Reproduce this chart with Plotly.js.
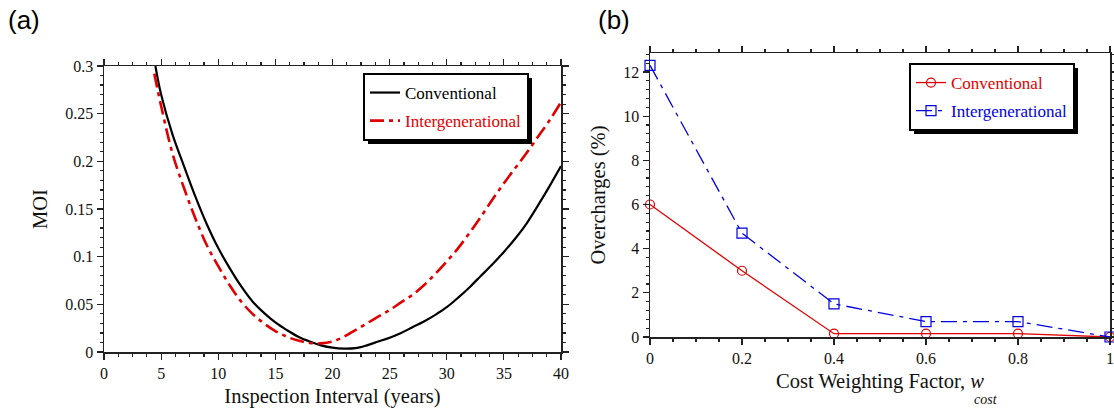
<!DOCTYPE html>
<html><head><meta charset="utf-8">
<script src="https://cdn.plot.ly/plotly-3.0.1.min.js"></script>
<style>body{margin:0;background:#fff}#chart{width:1114px;height:409px}</style>
</head><body><div id="chart"></div>
<script>
// Panel (a): MOI vs inspection interval
const convYears = [4.5,5,6,7,8,9,10,11,12,13,14,15,16,17,18,19,20,21,22,23,24,25,26,27,28,29,30,31,32,33,34,35,36,37,38,39,40];
const moiConventional = [0.300,0.270,0.228,0.195,0.163,0.134,0.109,0.088,0.069,0.053,0.041,0.031,0.023,0.016,0.011,0.007,0.0045,0.0035,0.004,0.007,0.011,0.015,0.020,0.026,0.032,0.039,0.047,0.057,0.068,0.080,0.092,0.105,0.119,0.135,0.154,0.174,0.195];
const interYears = [4.4,5,6,7,8,9,10,11,12,13,14,15,16,17,18,19,20,21,22,23,24,25,26,27,28,29,30,31,32,33,34,35,36,37,38,39,40];
const moiIntergenerational = [0.292,0.258,0.208,0.172,0.140,0.112,0.090,0.070,0.053,0.040,0.030,0.022,0.016,0.012,0.0095,0.009,0.011,0.016,0.023,0.030,0.037,0.044,0.052,0.060,0.070,0.082,0.095,0.109,0.125,0.142,0.160,0.177,0.193,0.209,0.226,0.243,0.262];

// Panel (b): Overcharges vs cost weighting factor
const costWeights = [0,0.2,0.4,0.6,0.8,1];
const overConventional = [6.0,3.0,0.15,0.15,0.15,0];
const overIntergenerational = [12.3,4.7,1.5,0.7,0.7,0];

const serif = "'Liberation Serif', 'Times New Roman', serif";
const sans = "'Liberation Sans', Arial, sans-serif";

const traces = [
  {x: convYears, y: moiConventional, xaxis:'x', yaxis:'y', mode:'lines', name:'Conventional',
   line:{color:'#000', width:2.2, shape:'spline', smoothing:1}, legend:'legend', legendgroup:'a1'},
  {x: interYears, y: moiIntergenerational, xaxis:'x', yaxis:'y', mode:'lines',
   name:'<span style="color:#e00000">Intergenerational</span>',
   line:{color:'#e00000', width:2.6, dash:'14px,5px,4px,5px', shape:'spline', smoothing:1}, legend:'legend', legendgroup:'a2'},
  {x: costWeights, y: overConventional, xaxis:'x2', yaxis:'y2', mode:'lines+markers',
   name:'<span style="color:#e00000">Conventional</span>',
   line:{color:'#e00000', width:1.3}, marker:{symbol:'circle-open', size:9, color:'#e00000', line:{width:1.2}},
   cliponaxis:false, legend:'legend2', legendgroup:'b1'},
  {x: costWeights, y: overIntergenerational, xaxis:'x2', yaxis:'y2', mode:'lines+markers',
   name:'<span style="color:#0000e0">Intergenerational</span>',
   line:{color:'#0000e0', width:1.3, dash:'16px,6px,4px,6px'}, marker:{symbol:'square-open', size:10, color:'#0000e0', line:{width:1.2}},
   cliponaxis:false, legend:'legend2', legendgroup:'b2'}
];

const axBase = {
  showgrid:false, zeroline:false, showline:true, linecolor:'#222', linewidth:1.5,
  mirror:'ticks', ticks:'outside', ticklen:6, tickwidth:1.2, tickcolor:'#222',
  tickfont:{family:serif, size:16, color:'#111'}
};

const layout = {
  width:1114, height:409,
  margin:{l:0, r:0, t:0, b:0},
  paper_bgcolor:'#fff', plot_bgcolor:'#fff',
  font:{family:serif, color:'#111'},
  xaxis: Object.assign({}, axBase, {
    domain:[104/1114, 561/1114], range:[0,40], dtick:5, tick0:0,
    minor:{dtick:1.25, ticks:'outside', ticklen:3, tickcolor:'#222'},
    title:{text:'Inspection Interval (years)', font:{family:serif, size:20.5}, standoff:8},
    anchor:'y'
  }),
  yaxis: Object.assign({}, axBase, {
    domain:[1-352/409, 1-66/409], range:[0,0.3], dtick:0.05, tick0:0,
    minor:{dtick:0.01, ticks:'outside', ticklen:3, tickcolor:'#222'},
    title:{text:'MOI', font:{family:serif, size:20.5}, standoff:12},
    anchor:'x'
  }),
  xaxis2: Object.assign({}, axBase, {
    domain:[650/1114, 1110/1114], range:[0,1], dtick:0.2, tick0:0,
    minor:{dtick:0.05, ticks:'outside', ticklen:3, tickcolor:'#222'},
    title:{text:'Cost Weighting Factor, <i>w</i>', font:{family:serif, size:20.5}, standoff:8},
    anchor:'y2'
  }),
  yaxis2: Object.assign({}, axBase, {
    domain:[1-337/409, 1-53/409], range:[0,12.86], dtick:2, tick0:0,
    minor:{dtick:0.4, ticks:'outside', ticklen:3, tickcolor:'#222'},
    title:{text:'Overcharges (%)', font:{family:serif, size:20.5}, standoff:12},
    anchor:'x2'
  }),
  legend:{x:363/1114, y:1-73/409, xanchor:'left', yanchor:'top', bgcolor:'#fff', bordercolor:'#000', borderwidth:2,
    font:{family:serif, size:17, color:'#000'}, tracegroupgap:3, traceorder:'grouped'},
  legend2:{x:909/1114, y:1-63/409, xanchor:'left', yanchor:'top', bgcolor:'#fff', bordercolor:'#000', borderwidth:2,
    font:{family:serif, size:17, color:'#000'}, tracegroupgap:3, traceorder:'grouped'},
  annotations:[
    {text:'(a)', xref:'paper', yref:'paper', x:6/1114, y:1-20/409, xanchor:'left', yanchor:'middle', showarrow:false,
     font:{family:sans, size:26, color:'#000'}},
    {text:'(b)', xref:'paper', yref:'paper', x:596/1114, y:1-20/409, xanchor:'left', yanchor:'middle', showarrow:false,
     font:{family:sans, size:26, color:'#000'}},
    {text:'<i>cost</i>', xref:'paper', yref:'paper', x:986/1114, y:1-399/409, xanchor:'center', yanchor:'middle', showarrow:false,
     font:{family:serif, size:14, color:'#111'}}
  ],
  shapes:[]
};

Plotly.newPlot('chart', traces, layout, {staticPlot:true, displayModeBar:false}).then(gd => {
  const root = gd.getBoundingClientRect();
  const shapes = [];
  ['legend','legend2'].forEach(cls => {
    const bg = gd.querySelector('g.' + cls + ' rect.bg');
    if (!bg) return;
    const r = bg.getBoundingClientRect();
    const off = 4;
    shapes.push({type:'rect', xref:'paper', yref:'paper', layer:'above',
      x0:(r.left - root.left + off)/1114, x1:(r.right - root.left + off)/1114,
      y0:1-(r.bottom - root.top + off)/409, y1:1-(r.top - root.top + off)/409,
      fillcolor:'#000', line:{width:0}});
  });
  return Plotly.relayout(gd, {shapes: shapes});
});
</script>
</body></html>
